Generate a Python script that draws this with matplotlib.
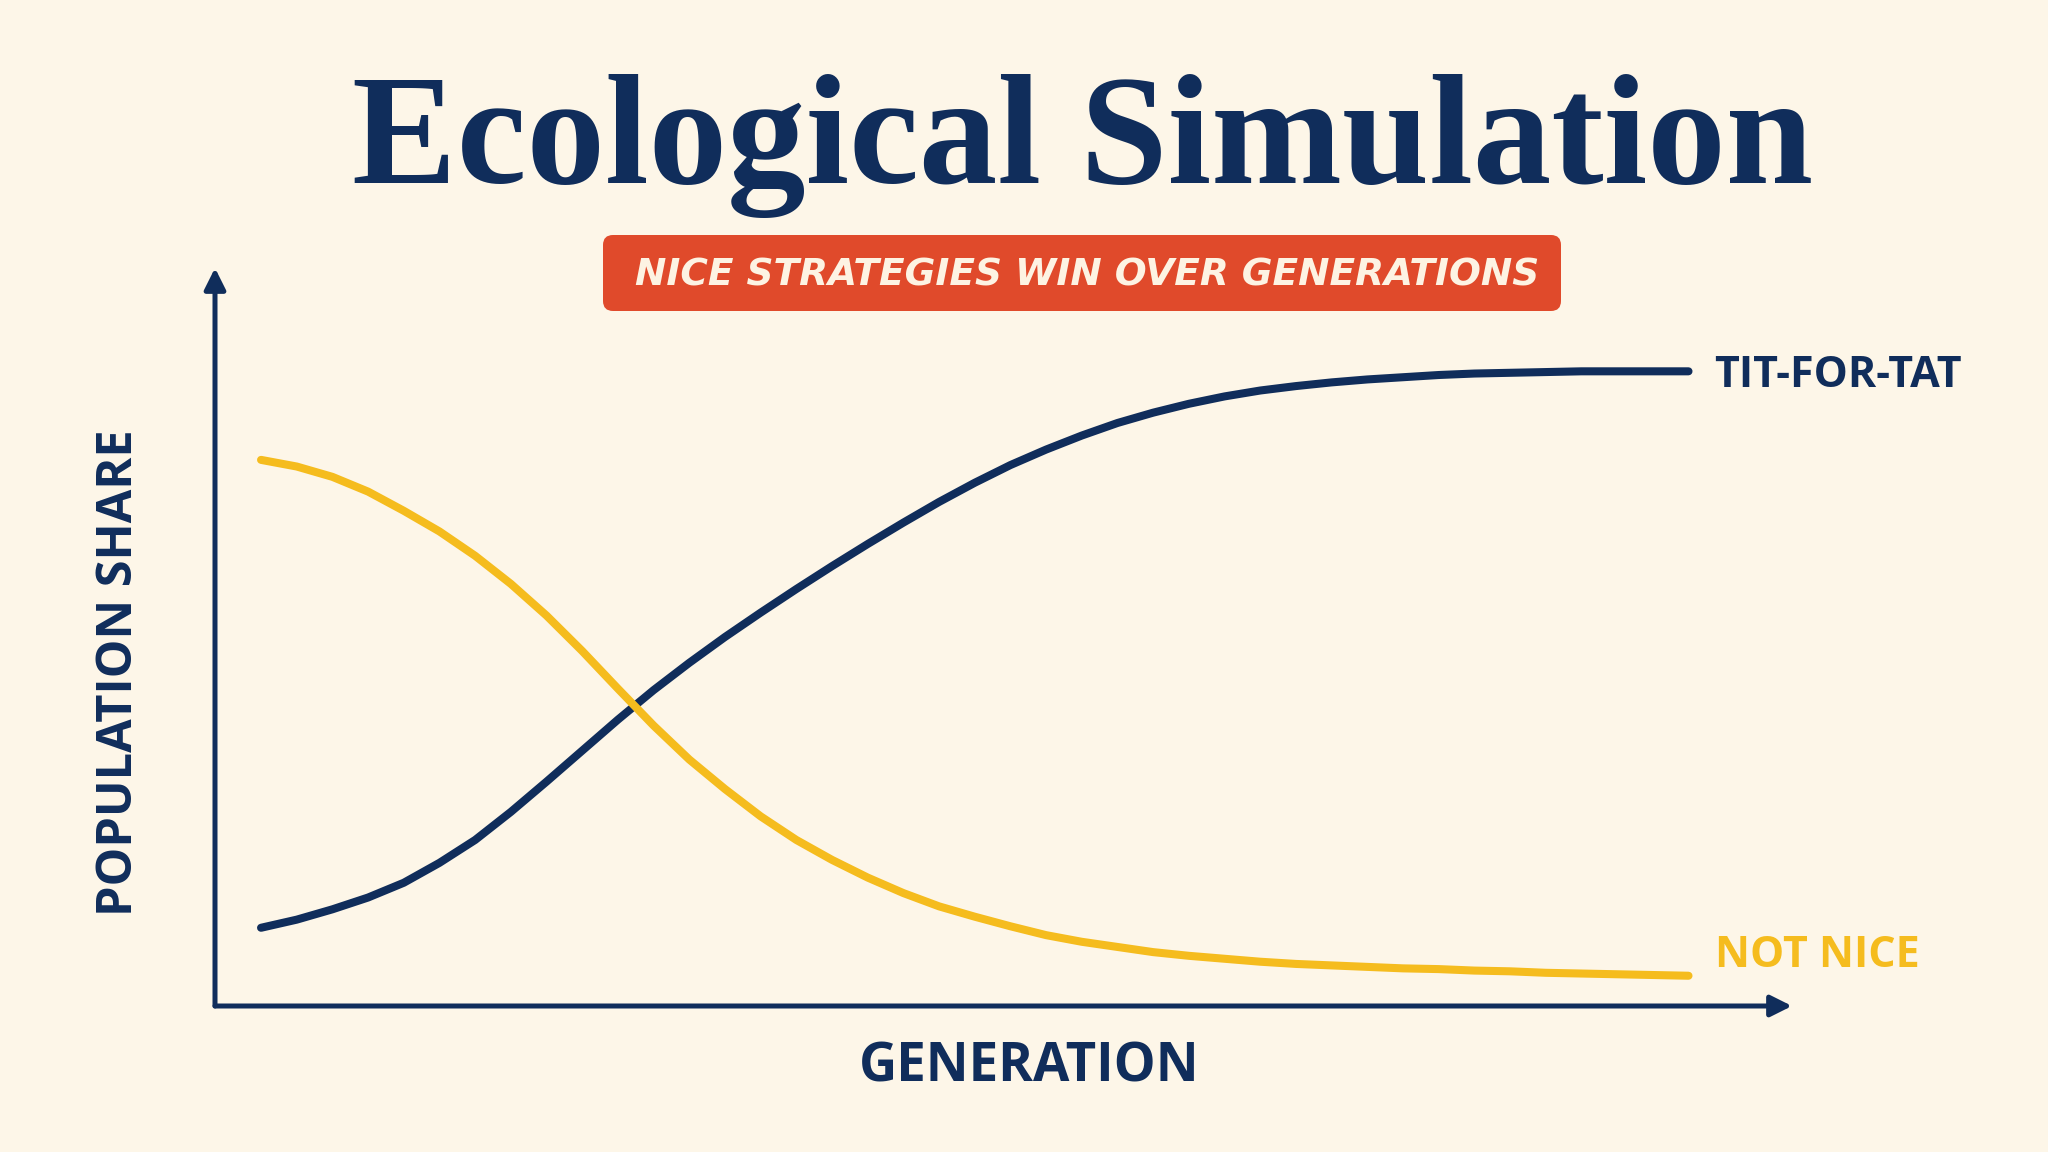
import matplotlib.pyplot as plt
from matplotlib.patches import FancyBboxPatch

# values (generation, population share 0..1)
generation = list(range(41))
tit_for_tat = [0.106, 0.117, 0.131, 0.147, 0.167, 0.194, 0.225, 0.263, 0.304, 0.346,
               0.388, 0.428, 0.465, 0.500, 0.533, 0.565, 0.596, 0.626, 0.655, 0.683,
               0.709, 0.733, 0.754, 0.773, 0.790, 0.804, 0.816, 0.826, 0.834, 0.840,
               0.845, 0.849, 0.852, 0.855, 0.857, 0.858, 0.859, 0.860, 0.860, 0.860, 0.860]
not_nice = [0.740, 0.731, 0.717, 0.697, 0.671, 0.643, 0.610, 0.572, 0.529, 0.481,
            0.430, 0.380, 0.334, 0.294, 0.257, 0.225, 0.198, 0.174, 0.153, 0.135,
            0.121, 0.108, 0.096, 0.087, 0.080, 0.073, 0.068, 0.064, 0.060, 0.057,
            0.055, 0.053, 0.051, 0.050, 0.048, 0.047, 0.045, 0.044, 0.043, 0.042, 0.041]

title = "Ecological Simulation"
subtitle = "NICE STRATEGIES WIN OVER GENERATIONS"
x_label = "GENERATION"
y_label = "POPULATION SHARE"

bg = "#FDF6E8"
navy = "#102D5B"
yellow = "#F5BC1E"
badge = "#E04A2B"
sans = ["Open Sans", "DejaVu Sans"]

fig = plt.figure(figsize=(20.48, 11.52), dpi=100, facecolor=bg)

# pixel overlay for title block
deco = fig.add_axes([0, 0, 1, 1])
deco.set_xlim(0, 2048)
deco.set_ylim(1152, 0)
deco.axis("off")
deco.patch.set_alpha(0)

deco.text(1083, 183, title, fontsize=113, fontweight="bold", color=navy,
          family=["Liberation Serif", "DejaVu Serif"], ha="center", va="baseline")
deco.add_patch(FancyBboxPatch((611, 243), 942, 60, boxstyle="round,pad=8,rounding_size=10",
                              fc=badge, ec="none"))
deco.text(1087, 276, subtitle, fontsize=27, fontweight="bold", style="italic", color="#FDF3E3",
          family=["DejaVu Sans"], ha="center", va="center")

# main plot
ax = fig.add_axes([215 / 2048, 146 / 1152, 1577 / 2048, 738 / 1152])
ax.set_facecolor("none")
ax.plot(generation, tit_for_tat, color=navy, lw=5.8, solid_capstyle="round")
ax.plot(generation, not_nice, color=yellow, lw=5.8, solid_capstyle="round")
ax.set_xlim(-1.29, 42.9)
ax.set_ylim(0, 1)
for s in ax.spines.values():
    s.set_visible(False)
ax.set_xticks([])
ax.set_yticks([])

arrow = dict(arrowstyle="-|>", color=navy, lw=3.6, mutation_scale=32, shrinkA=0, shrinkB=0)
ax.annotate("", xy=(1, 0), xytext=(0, 0), xycoords="axes fraction", arrowprops=arrow)
ax.annotate("", xy=(0, 1), xytext=(0, 0), xycoords="axes fraction", arrowprops=arrow)

ax.annotate("TIT-FOR-TAT", xy=(generation[-1], tit_for_tat[-1]), xytext=(26, -4),
            textcoords="offset pixels", color=navy, fontsize=31, fontweight="bold",
            family=sans, ha="left", va="center")
ax.annotate("NOT NICE", xy=(generation[-1], not_nice[-1]), xytext=(26, 20),
            textcoords="offset pixels", color=yellow, fontsize=31, fontweight="bold",
            family=sans, ha="left", va="center")

fig.text(1029 / 2048, 1 - 1067 / 1152, x_label, fontsize=38, fontweight="bold", color=navy,
         family=sans, ha="center", va="center")
fig.text(120 / 2048, 1 - 673 / 1152, y_label, fontsize=35, fontweight="bold", color=navy,
         family=sans, ha="center", va="center", rotation=90)

fig.savefig("out.png", dpi=100, facecolor=bg)
